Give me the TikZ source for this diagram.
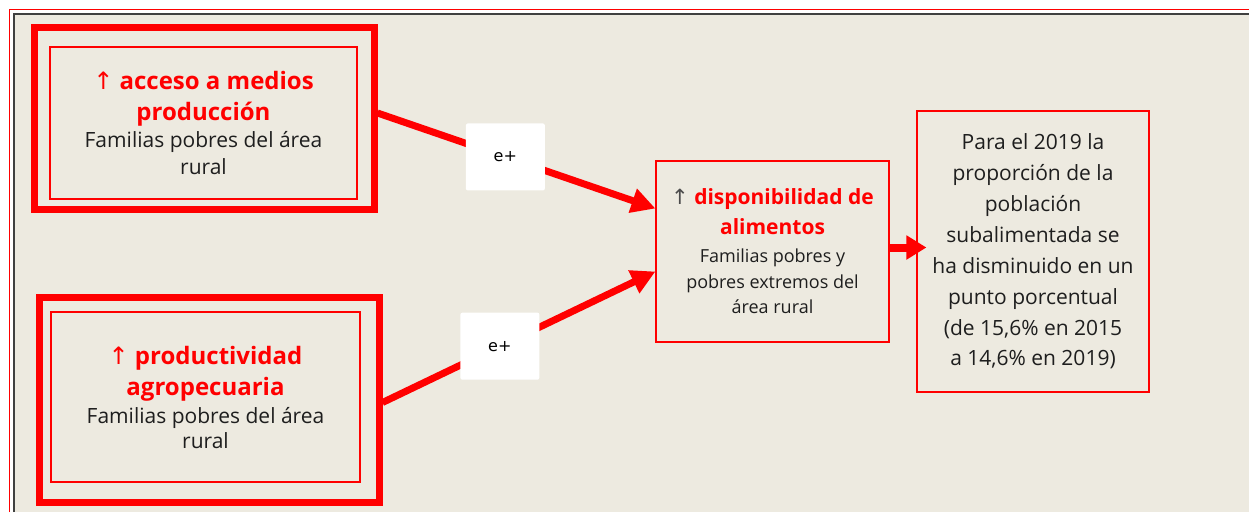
\documentclass[tikz,border=0pt]{standalone}
\usepackage{fontspec}
\setmainfont{Open Sans}
\newfontfamily\symfont{DejaVu Sans}
\newfontfamily\labfont{DejaVu Sans}
\usetikzlibrary{arrows.meta}
\definecolor{bgbeige}{RGB}{237,234,224}
\definecolor{txtdark}{RGB}{30,30,30}
\newcommand{\uparr}{{\symfont\char"2191}}
\begin{document}
\begin{tikzpicture}[x=1pt,y=-1pt,
  outerbox/.style={draw=red, line width=7pt, minimum width=#1, inner sep=0pt},
  thinbox/.style={draw=red, line width=1.1pt, inner sep=0pt, align=center, text=txtdark,
    font=\fontsize{21}{27}\selectfont},
  elabel/.style={fill=white, rounded corners=2pt, minimum width=79pt, minimum height=67pt,
    inner sep=0pt, font=\labfont\fontsize{16}{18}\selectfont, text=black},
  conn/.style={draw=red, line width=7pt, -{Triangle[length=24pt,width=24pt]}}
]
\useasboundingbox (0,0) rectangle (1249,512);
\fill[white] (0,0) rectangle (1249,512);
\fill[bgbeige] (14,14) rectangle (1249,512);
\draw[red, line width=1.6pt] (9.5,512) -- (9.5,9.5) -- (1249,9.5);
\draw[black!75, line width=1.4pt] (14,512) -- (14,14) -- (1249,14);

% box 1
\node[outerbox=340pt, minimum height=182pt] (b1) at (204,118) {};
\node[thinbox, minimum width=307pt, minimum height=152pt] (b1in) at (203.5,123)
  {{\color{red}\fontsize{24}{31}\selectfont\uparr\ \bfseries acceso a medios}\\[4pt]
   {\color{red}\fontsize{24}{31}\selectfont\bfseries producción}\\
   Familias pobres del área\\ rural};

% box 2
\node[outerbox=340pt, minimum height=205pt] (b2) at (209,399.5) {};
\node[thinbox, minimum width=309pt, minimum height=170pt] (b2in) at (205.5,397)
  {{\color{red}\fontsize{24}{31}\selectfont\uparr\ \bfseries productividad}\\[4pt]
   {\color{red}\fontsize{24}{31}\selectfont\bfseries agropecuaria}\\[1pt]
   Familias pobres del área\\[-2pt] rural};

% middle
\node[thinbox, minimum width=233pt, minimum height=181pt, font=\fontsize{18}{26}\selectfont] (mid) at (772.5,251.5)
  {{\fontsize{21}{30}\selectfont{\color{black!70}\uparr}\ {\color{red}\bfseries disponibilidad de}}\\[4pt]
   {\color{red}\fontsize{21}{30}\selectfont\bfseries alimentos}\\[2pt]
   Familias pobres y\\ pobres extremos del\\[-1pt] área rural};

% right
\node[thinbox, minimum width=232pt, minimum height=281pt, font=\fontsize{21}{30.9}\selectfont] (res) at (1033,251.5)
  {Para el 2019 la\\ proporción de la\\ población\\ subalimentada se\\ ha disminuido en un\\
   punto porcentual\\ (de 15,6\% en 2015\\ a 14,6\% en 2019)};

% connectors
\draw[conn] ([yshift=5pt]b1.east) -- node[elabel, pos=0.46] {e+} ([yshift=43pt]mid.west);
\draw[conn] ([yshift=-3pt]b2.east) -- node[elabel, pos=0.43] {e+} ([yshift=-20pt]mid.west);
\draw[draw=red, line width=8pt, -{Triangle[length=20pt,width=23pt]}] ([yshift=4pt]mid.east) -- ([yshift=4pt,xshift=10pt]res.west);
\end{tikzpicture}
\end{document}
